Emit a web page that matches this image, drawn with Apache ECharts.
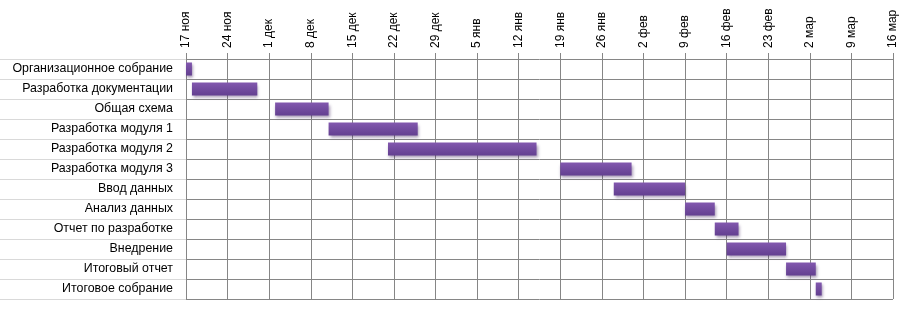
<!DOCTYPE html>
<html>
<head>
<meta charset="utf-8">
<script src="https://cdn.jsdelivr.net/npm/echarts@6/dist/echarts.min.js"></script>
<style>
html, body { margin: 0; padding: 0; background: #fff; }
#chart { width: 909px; height: 312px; }
</style>
</head>
<body>
<div id="chart"></div>
<script>
// задачи (сверху вниз)
var tasks = ['Организационное собрание', 'Разработка документации', 'Общая схема',
	'Разработка модуля 1', 'Разработка модуля 2', 'Разработка модуля 3', 'Ввод данных',
	'Анализ данных', 'Отчет по разработке', 'Внедрение', 'Итоговый отчет', 'Итоговое собрание'];
// начало, в днях от 17 ноя
var startDay = [0, 1, 15, 24, 34, 63, 72, 84, 89, 91, 101, 106];
// длительность, дней
var duration = [1, 11, 9, 15, 25, 12, 12, 5, 4, 10, 5, 1];
// подписи недель
var weekLabels = ['17 ноя', '24 ноя', '1 дек', '8 дек', '15 дек', '22 дек', '29 дек', '5 янв',
	'12 янв', '19 янв', '26 янв', '2 фев', '9 фев', '16 фев', '23 фев', '2 мар', '9 мар', '16 мар'];

var myChart = echarts.init(document.getElementById('chart'));
var font = 'Liberation Sans';

myChart.setOption({
	animation: false,
	grid: {
		left: 186,
		right: 16,
		top: 59,
		bottom: 13,
		containLabel: false
	},
	xAxis: {
		type: 'value',
		position: 'top',
		min: 0,
		max: 119,
		interval: 7,
		axisLine: { show: false },
		axisTick: { show: true, length: 6, lineStyle: { color: '#868686' } },
		splitLine: { show: true, lineStyle: { color: '#868686', width: 1 } },
		axisLabel: {
			rotate: -90,
			margin: 11,
			color: '#000',
			fontFamily: font,
			fontSize: 12,
			formatter: function (v) {
				return weekLabels[Math.round(v / 7)];
			}
		}
	},
	yAxis: {
		type: 'category',
		inverse: true,
		data: tasks,
		axisLine: { show: true, lineStyle: { color: '#868686' } },
		axisTick: { show: true, length: 186, lineStyle: { color: '#d9d9d9' } },
		splitLine: { show: true, lineStyle: { color: '#868686', width: 1 } },
		axisLabel: {
			margin: 13,
			color: '#000',
			fontFamily: font,
			fontSize: 12.4
		}
	},
	series: [
		{
			type: 'bar',
			stack: 'g',
			data: startDay,
			itemStyle: { color: 'transparent' },
			silent: true
		},
		{
			type: 'bar',
			stack: 'g',
			data: duration,
			barWidth: 13,
			itemStyle: {
				color: new echarts.graphic.LinearGradient(0, 0, 0, 1, [
					{ offset: 0, color: '#8258ae' },
					{ offset: 1, color: '#633f90' }
				]),
				shadowColor: 'rgba(60,30,90,0.45)',
				shadowBlur: 3,
				shadowOffsetX: 1,
				shadowOffsetY: 2
			}
		}
	]
});
</script>
</body>
</html>
